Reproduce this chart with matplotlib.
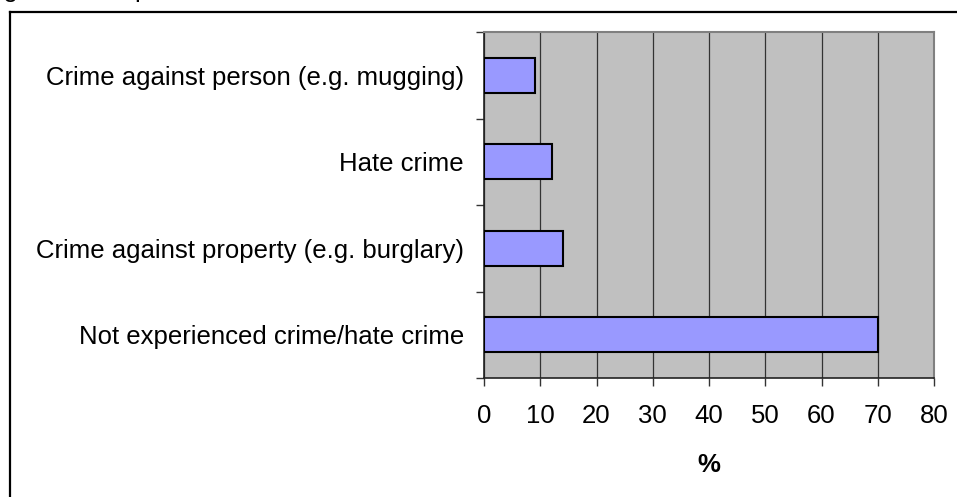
import matplotlib
matplotlib.use("Agg")
import matplotlib.pyplot as plt
from matplotlib.lines import Line2D
import numpy as np

plt.rcParams['font.family'] = ['Liberation Sans', 'DejaVu Sans']

# Data (top to bottom as displayed)
categories = [
    "Crime against person (e.g. mugging)",
    "Hate crime",
    "Crime against property (e.g. burglary)",
    "Not experienced crime/hate crime",
]
values = [9, 12, 14, 70]
x_ticks = [0, 10, 20, 30, 40, 50, 60, 70, 80]
x_label = "%"
title_text = "Figure 12: Experience of crime and hate crime"

W, H = 957, 497
fig = plt.figure(figsize=(W / 100, H / 100), dpi=100)
ax = fig.add_axes([484 / W, 1 - 378 / H, (934 - 484) / W, (378 - 32) / H])

n = len(categories)
ypos = np.arange(n)[::-1]
ax.set_facecolor("#C0C0C0")
ax.barh(ypos, values, height=0.4, color="#9999FF", edgecolor="black",
        linewidth=1.5, zorder=3)

ax.set_xlim(0, 80)
ax.set_ylim(-0.5, n - 0.5)
ax.set_xticks(x_ticks)
ax.set_xticklabels([str(t) for t in x_ticks], fontsize=18.5)
ax.xaxis.grid(True, color="#333333", linewidth=0.9, zorder=1)
ax.set_axisbelow(True)

# y ticks at category boundaries, labels at centres
ax.set_yticks(np.arange(-0.5, n, 1.0))
ax.set_yticklabels([])
ax.set_yticks(ypos, minor=True)
ax.set_yticklabels(categories, minor=True, fontsize=18.5)
ax.tick_params(axis="y", which="minor", length=0, pad=14.5)
ax.tick_params(axis="y", which="major", direction="out", length=6, width=1,
               color="#333333")
ax.tick_params(axis="x", direction="out", length=6, width=1, color="#333333",
               pad=13)

ax.set_xlabel(x_label, fontsize=18.5, fontweight="bold", labelpad=18)

for s in ["left", "bottom"]:
    ax.spines[s].set_color("#222222")
    ax.spines[s].set_linewidth(1.2)
for s in ["top", "right"]:
    ax.spines[s].set_color("#808080")
    ax.spines[s].set_linewidth(1.5)

# outer frame (only left and top visible)
fig.add_artist(Line2D([10 / W, 10 / W], [0, 1 - 12 / H], color="black",
                      linewidth=1.6, transform=fig.transFigure))
fig.add_artist(Line2D([10 / W, 1], [1 - 12 / H, 1 - 12 / H], color="black",
                      linewidth=1.6, transform=fig.transFigure))

# clipped title (only descenders visible, as in the reference crop)
fig.text(-18.5 / W, 1 + 2.5 / H, title_text, fontsize=18.5,
         va="baseline", ha="left")

fig.savefig("out.png", dpi=100)
